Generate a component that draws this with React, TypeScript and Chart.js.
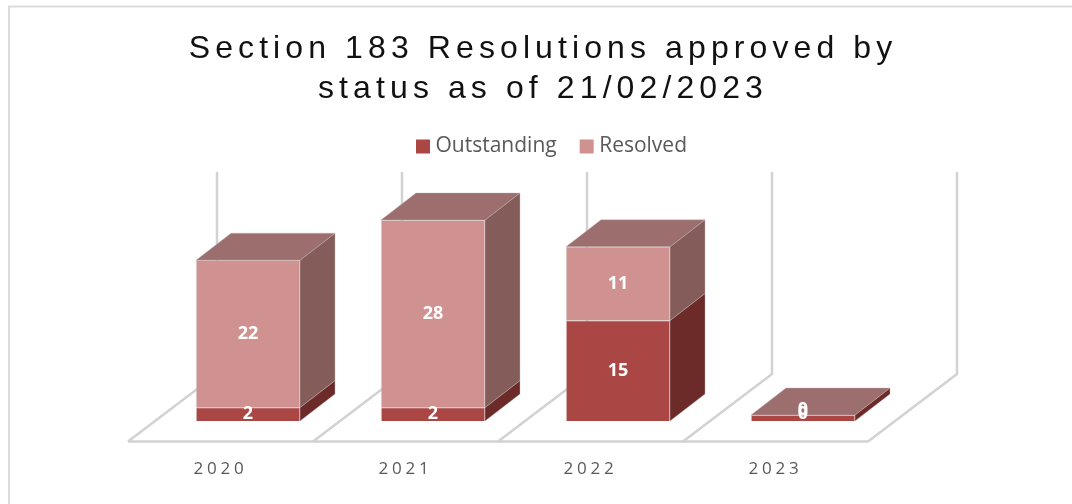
import React, { useEffect, useRef } from "react";
import { Chart, registerables } from "chart.js";

Chart.register(...registerables);

const titleLines = ["Section 183 Resolutions approved by", "status as of 21/02/2023"];
const categories = ["2020", "2021", "2022", "2023"];
const outstanding = [2, 2, 15, 0];
const resolved = [22, 28, 11, 0];

const OUT = { front: "#AA4644", side: "#6C2A28", name: "Outstanding" };
const RES = { front: "#D09291", side: "#845D5B", top: "#9C6F6E", name: "Resolved" };
const GRID = "#D2D2D2";
const EDGE = "rgba(190,180,180,0.4)";
const DEPTH = { x: 35, y: -27 };
const FLOOR_FRONT = { x: -27.5, y: 20.5 };
const FLOOR_BACK = { x: 61.5, y: -47 };

function quad(ctx: CanvasRenderingContext2D, pts: number[][], fill: string) {
  ctx.beginPath();
  pts.forEach((p, i) => (i ? ctx.lineTo(p[0], p[1]) : ctx.moveTo(p[0], p[1])));
  ctx.closePath();
  ctx.fillStyle = fill;
  ctx.fill();
  ctx.strokeStyle = EDGE;
  ctx.lineWidth = 1;
  ctx.stroke();
}

const threeD = {
  id: "threeD",
  afterLayout(chart: any) {
    const ctx = chart.ctx;
    const t = chart.titleBlock;
    if (t && !t.__sp) {
      t.__sp = true;
      const d = t.draw.bind(t);
      t.draw = (...a: any[]) => {
        ctx.letterSpacing = "5.1px";
        d(...a);
        ctx.letterSpacing = "0px";
      };
    }
    const x = chart.scales.x;
    if (x && !x.__sp) {
      x.__sp = true;
      const d = x.drawLabels.bind(x);
      x.drawLabels = (...a: any[]) => {
        ctx.letterSpacing = "3.8px";
        d(...a);
        ctx.letterSpacing = "0px";
      };
    }
    const lg = chart.legend;
    lg.left += 11;
    lg.right += 11;
    lg.top -= 1;
    lg.bottom -= 1;
  },
  beforeDraw(chart: any) {
    const { ctx, width, height } = chart;
    ctx.save();
    ctx.fillStyle = "#fff";
    ctx.fillRect(0, 0, width, height);
    ctx.strokeStyle = "#DBDBDB";
    ctx.lineWidth = 2;
    ctx.beginPath();
    ctx.moveTo(9, height);
    ctx.lineTo(9, 6.5);
    ctx.lineTo(width, 6.5);
    ctx.stroke();
    ctx.restore();
  },
  beforeDatasetsDraw(chart: any) {
    const { ctx, scales } = chart;
    const x = scales.x;
    const y = scales.y;
    const base = y.getPixelForValue(0);
    const wall = base - y.getPixelForValue(30);
    const step = x.getPixelForValue(1) - x.getPixelForValue(0);
    const start = x.getPixelForValue(0) - step / 2;
    ctx.save();
    ctx.strokeStyle = GRID;
    ctx.lineWidth = 2.5;
    ctx.lineJoin = "round";
    for (let i = 0; i <= categories.length; i++) {
      const fx = start + i * step + FLOOR_FRONT.x;
      const fy = base + FLOOR_FRONT.y;
      const bx = start + i * step + FLOOR_BACK.x;
      const by = base + FLOOR_BACK.y;
      ctx.beginPath();
      ctx.moveTo(fx, fy);
      ctx.lineTo(bx, by);
      ctx.lineTo(bx, by - wall - 1);
      ctx.stroke();
    }
    ctx.beginPath();
    ctx.moveTo(start + FLOOR_FRONT.x, base + FLOOR_FRONT.y);
    ctx.lineTo(start + categories.length * step + FLOOR_FRONT.x, base + FLOOR_FRONT.y);
    ctx.stroke();

    categories.forEach((_, i) => {
      let topY = Infinity;
      let left = 0;
      let right = 0;
      [0, 1].forEach((d) => {
        const el = chart.getDatasetMeta(d).data[i];
        const hw = el.width / 2;
        left = el.x - hw;
        right = el.x + hw;
        const top = Math.min(el.y, el.base);
        const bot = Math.max(el.y, el.base);
        topY = Math.min(topY, top);
        if (bot - top > 0) {
          quad(
            ctx,
            [
              [right, top],
              [right + DEPTH.x, top + DEPTH.y],
              [right + DEPTH.x, bot + DEPTH.y],
              [right, bot],
            ],
            d === 0 ? OUT.side : RES.side
          );
        }
      });
      quad(
        ctx,
        [
          [left, topY],
          [left + DEPTH.x, topY + DEPTH.y],
          [right + DEPTH.x, topY + DEPTH.y],
          [right, topY],
        ],
        RES.top
      );
    });
    ctx.restore();
  },
  afterDatasetsDraw(chart: any) {
    const { ctx } = chart;
    ctx.save();
    ctx.font = "bold 18px 'Open Sans'";
    ctx.fillStyle = "#FFFFFF";
    ctx.textAlign = "center";
    ctx.textBaseline = "middle";
    [outstanding, resolved].forEach((vals, d) => {
      const meta = chart.getDatasetMeta(d);
      vals.forEach((v, i) => {
        const el = meta.data[i];
        const lift = v === 0 ? (d === 0 ? 4 : 5.5) : 0;
        ctx.fillText(String(v), el.x, (el.y + el.base) / 2 - lift);
      });
    });
    ctx.restore();
  },
};

export default function App() {
  const ref = useRef<HTMLCanvasElement>(null);
  useEffect(() => {
    const chart = new Chart(ref.current as HTMLCanvasElement, {
      type: "bar",
      plugins: [threeD],
      data: {
        labels: categories,
        datasets: [
          {
            label: OUT.name,
            data: outstanding,
            backgroundColor: OUT.front,
            borderColor: EDGE,
            borderWidth: 1,
            minBarLength: 6,
            barThickness: 104,
            stack: "s",
          },
          {
            label: RES.name,
            data: resolved,
            backgroundColor: RES.front,
            borderColor: EDGE,
            borderWidth: 1,
            barThickness: 104,
            stack: "s",
          },
        ],
      } as any,
      options: {
        animation: false,
        responsive: false,
        layout: { padding: { left: 14, right: 0, top: 0, bottom: 0 } },
        plugins: {
          tooltip: { enabled: false },
          title: {
            display: true,
            text: titleLines,
            color: "#111111",
            font: { family: "'Liberation Sans'", size: 32, weight: "normal", lineHeight: 1.25 },
            padding: { top: 29, bottom: 0 },
          },
          legend: {
            display: true,
            position: "top",
            labels: {
              color: "#595959",
              font: { family: "'Open Sans'", size: 21 },
              boxWidth: 4,
              boxHeight: 4,
              padding: 28,
              generateLabels: () =>
                [OUT, RES].map((s) => ({
                  text: s.name,
                  fillStyle: s.front,
                  strokeStyle: s.front,
                  fontColor: "#595959",
                  lineWidth: 10,
                  hidden: false,
                })),
            },
          },
        },
        scales: {
          x: {
            type: "category",
            stacked: true,
            position: "bottom",
            grid: { display: false, drawTicks: false },
            border: { display: false },
            ticks: {
              color: "#595959",
              font: { family: "'Open Sans'", size: 17 },
              padding: 38,
              labelOffset: -27.5,
              maxRotation: 0,
              autoSkip: false,
            },
            afterFit: (s: any) => {
              s.height = 83;
            },
          },
          xTop: {
            type: "category",
            labels: categories,
            position: "top",
            grid: { display: false, drawTicks: false },
            border: { display: false },
            ticks: { display: false },
            afterFit: (s: any) => {
              s.height = 52;
            },
          },
          y: {
            stacked: true,
            position: "left",
            min: 0,
            max: 30,
            grid: { display: false, drawTicks: false },
            border: { display: false },
            ticks: { display: false },
            afterFit: (s: any) => {
              s.width = 141.5;
            },
          },
          yRight: {
            position: "right",
            min: 0,
            max: 30,
            grid: { display: false, drawTicks: false },
            border: { display: false },
            ticks: { display: false },
            afterFit: (s: any) => {
              s.width = 176.5;
            },
          },
        },
      } as any,
    });
    return () => chart.destroy();
  }, []);
  return (
    <div style={{ position: "absolute", left: 0, top: 0, width: 1072, height: 504 }}>
      <canvas ref={ref} width={1072} height={504} style={{ display: "block" }} />
    </div>
  );
}
